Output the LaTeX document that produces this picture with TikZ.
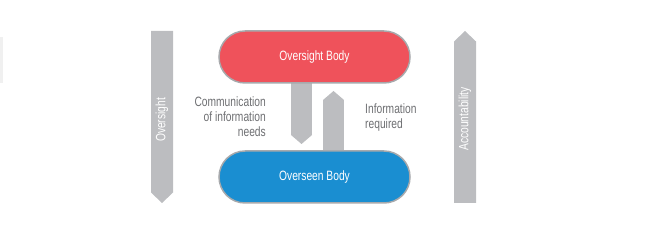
\documentclass[tikz,border=0pt]{standalone}
\usepackage{fontspec}
\setmainfont{Liberation Sans}[FakeStretch=0.76]
\usepackage{xcolor}
\usetikzlibrary{arrows.meta,positioning,calc}

\definecolor{bodyred}{HTML}{EF525B}
\definecolor{bodyblue}{HTML}{1A8ED1}
\definecolor{bargray}{HTML}{BCBDC0}
\definecolor{edgegray}{HTML}{A7A9AC}
\definecolor{txtgray}{HTML}{6D6E71}

\begin{document}
\begin{tikzpicture}[
  x=1pt, y=1pt,
  font=\fontsize{13.5}{15}\selectfont,
  body/.style={rectangle, rounded corners=26pt, draw=edgegray, line width=1.5pt,
               minimum width=191pt, minimum height=52pt, text=white, inner sep=0pt},
  flow/.style={draw=bargray, line width=21pt,
               -{Triangle[length=9pt, width=21pt, line width=0pt]}},
  lab/.style={text=txtgray, inner sep=0pt},
]
\useasboundingbox (0,0) rectangle (650,235);
\fill[gray!12] (0,152) rectangle (2.5,198);

% the two arrows between the bodies (drawn first, bodies cover their ends)
\coordinate (downtop) at (301.5,170);
\coordinate (downend) at (301.5,91);
\coordinate (upbot) at (333.5,70);
\coordinate (upend) at (333.5,144);
\draw[flow] (downtop) -- (downend);
\draw[flow] (upbot) -- (upend);

% bodies
\node[body, fill=bodyred] (ob) at (314.5,178) {Oversight Body};
\node[body, fill=bodyblue] (sb) at (314.5,58) {Overseen Body};

% labels of the middle arrows
\node[lab, align=right, anchor=east] (needs) at (266,118)
  {Communication\\of information\\needs};
\node[lab, align=left, anchor=west] (req) at (365,117)
  {Information\\required};

% side arrows
\coordinate (ovtop) at (162,204);
\coordinate (ovend) at (162,32);
\fill[bargray] ($(ovtop)+(-11,0)$) -- ($(ovtop)+(11,0)$) -- ($(ovend)+(11,10.5)$)
  -- (ovend) -- ($(ovend)+(-11,10.5)$) -- cycle;
\node[rotate=90, text=white] (ovlab) at (162,115) {Oversight};
\coordinate (acbot) at (465,32);
\coordinate (acend) at (465,204);
\fill[bargray] ($(acbot)+(-11,0)$) -- ($(acbot)+(11,0)$) -- ($(acend)+(11,-10.5)$)
  -- (acend) -- ($(acend)+(-11,-10.5)$) -- cycle;
\node[rotate=90, text=white] (aclab) at (465,116) {Accountability};
\end{tikzpicture}
\end{document}
